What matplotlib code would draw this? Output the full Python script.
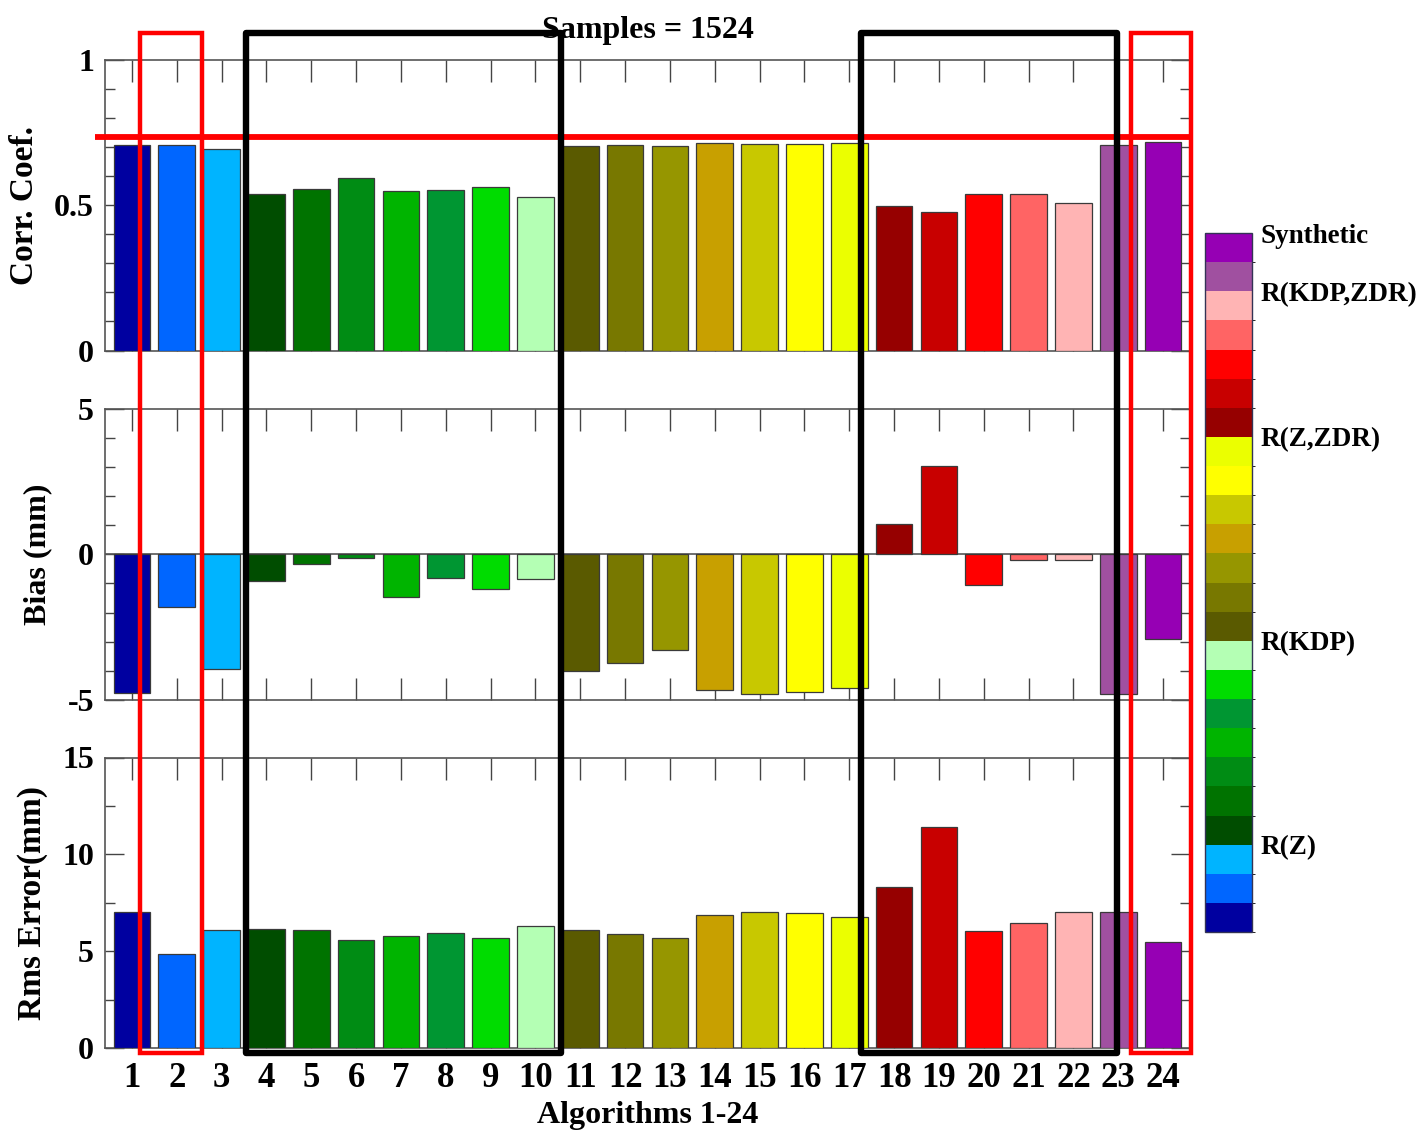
import numpy as np
import matplotlib
matplotlib.use("Agg")
import matplotlib.pyplot as plt
from matplotlib.colors import ListedColormap, BoundaryNorm
from matplotlib.cm import ScalarMappable
from matplotlib.patches import Rectangle
from matplotlib.transforms import blended_transform_factory
from matplotlib.ticker import MultipleLocator

plt.rcParams['font.family'] = ['Liberation Serif', 'DejaVu Serif']
plt.rcParams['font.weight'] = 'bold'

# ---------------- data ----------------
algorithms = list(range(1, 25))
corr_coef = [0.706, 0.708, 0.695, 0.539, 0.556, 0.594, 0.549, 0.554, 0.564, 0.527,
             0.705, 0.708, 0.705, 0.713, 0.711, 0.711, 0.714, 0.498, 0.477, 0.539,
             0.539, 0.508, 0.709, 0.717]
bias_mm = [-4.75, -1.81, -3.93, -0.91, -0.34, -0.14, -1.47, -0.80, -1.20, -0.85,
           -4.01, -3.74, -3.30, -4.66, -4.78, -4.73, -4.60, 1.03, 3.02, -1.04,
           -0.21, -0.21, -4.78, -2.91]
rms_mm = [7.01, 4.86, 6.10, 6.15, 6.08, 5.60, 5.80, 5.94, 5.67, 6.29,
          6.10, 5.88, 5.67, 6.87, 7.03, 6.96, 6.77, 8.33, 11.41, 6.06,
          6.46, 7.03, 7.03, 5.46]
bar_colors = ['#0000A0', '#0066FF', '#00B4FF',
              '#004D00', '#007300', '#008C14', '#00B400', '#009632', '#00DC00', '#B4FFB4',
              '#5A5A00', '#787800', '#969600', '#C8A000', '#C8C800', '#FFFF00', '#EBFF00',
              '#960000', '#C80000', '#FF0000', '#FF6464', '#FFB4B4',
              '#A050A0', '#9600B4']
group_names = ['R(Z)', 'R(KDP)', 'R(Z,ZDR)', 'R(KDP,ZDR)', 'Synthetic']
group_label_pos = [3, 10, 17, 22, 24]
corr_reference = 0.734
n_samples = 1524

# highlight boxes in algorithm units (x ranges)
red_boxes = [(1.18, 2.57), (23.28, 24.63)]
black_boxes = [(3.54, 10.58), (17.27, 22.97)]

# ---------------- figure ----------------
W, H = 1421, 1131
fig = plt.figure(figsize=(W / 100, H / 100), dpi=100)

left = 105 / W
width = (1190 - 105) / W

def yfrac(top_px, bot_px):
    return 1 - bot_px / H, (bot_px - top_px) / H

b1, h1 = yfrac(60, 350.5)
b2, h2 = yfrac(408.5, 700)
b3, h3 = yfrac(757.5, 1048.3)
ax1 = fig.add_axes([left, b1, width, h1])
ax2 = fig.add_axes([left, b2, width, h2])
ax3 = fig.add_axes([left, b3, width, h3])

spine_col = '#555555'
for ax, vals, ylim, ymaj, ymin in [
        (ax1, corr_coef, (0, 1), 0.5, 0.1),
        (ax2, bias_mm, (-5, 5), 5, 1),
        (ax3, rms_mm, (0, 15), 5, 2.5)]:
    ax.bar(algorithms, vals, width=0.82, color=bar_colors,
           edgecolor='#3a3a3a', linewidth=0.9, zorder=3)
    ax.set_xlim(0.4, 24.6)
    ax.set_ylim(*ylim)
    ax.set_xticks(algorithms)
    ax.yaxis.set_major_locator(MultipleLocator(ymaj))
    ax.yaxis.set_minor_locator(MultipleLocator(ymin))
    ax.tick_params(axis='x', which='both', direction='in', top=True, bottom=True,
                   length=16, width=1.0, color='#444444', labelsize=25, pad=10)
    ax.tick_params(axis='y', which='major', direction='in', left=True, right=True,
                   length=14, width=1.0, color='#444444', labelsize=23, pad=8)
    ax.tick_params(axis='y', which='minor', direction='in', left=True, right=True,
                   length=7, width=1.0, color='#444444')
    for s in ax.spines.values():
        s.set_color(spine_col)
        s.set_linewidth(1.2)
    if ax is not ax3:
        ax.tick_params(axis='x', labelbottom=False)

ax1.set_yticks([0, 0.5, 1])
ax1.set_yticklabels(['0', '0.5', '1'])
ax2.set_yticks([-5, 0, 5])
ax2.set_yticklabels(['-5', '0', '5'])
ax2.axhline(0, color=spine_col, linewidth=1.2, zorder=2)
ax3.set_yticks([0, 5, 10, 15])

ax1.set_title(f'Samples = {n_samples}', fontsize=23, fontweight='bold', pad=16)
ax1.set_ylabel('Corr. Coef.', fontsize=24, fontweight='bold')
ax2.set_ylabel('Bias (mm)', fontsize=23, fontweight='bold')
ax3.set_ylabel('Rms Error(mm)', fontsize=24, fontweight='bold')
ax1.yaxis.set_label_coords(-0.060, 0.5)
ax2.yaxis.set_label_coords(-0.049, 0.5)
ax3.yaxis.set_label_coords(-0.0525, 0.5)
ax3.set_xlabel('Algorithms 1-24', fontsize=23, fontweight='bold', labelpad=4)

# red reference line
ax1.plot([0.18, 24.6], [corr_reference, corr_reference], color='#FF0000',
         linewidth=4.2, clip_on=False, zorder=6, solid_capstyle='butt')
ax1.set_xlim(0.4, 24.6)

# highlight boxes
btr = blended_transform_factory(ax3.transData, fig.transFigure)
y_top = 1 - 33 / H
y_bot = 1 - 1053 / H
for x0, x1 in red_boxes:
    fig.add_artist(Rectangle((x0, y_bot), x1 - x0, y_top - y_bot, transform=btr,
                             fill=False, edgecolor='#FF0000', linewidth=3.2,
                             clip_on=False, zorder=10))
for x0, x1 in black_boxes:
    fig.add_artist(Rectangle((x0, y_bot), x1 - x0, y_top - y_bot, transform=btr,
                             fill=False, edgecolor='#000000', linewidth=4.6,
                             joinstyle='round', clip_on=False, zorder=10))

# colour bar legend
cax = fig.add_axes([1205 / W, 1 - 932 / H, 47 / W, (932 - 233) / H])
cmap = ListedColormap(bar_colors)
norm = BoundaryNorm(np.arange(0, 25), cmap.N)
sm = ScalarMappable(norm=norm, cmap=cmap)
cb = fig.colorbar(sm, cax=cax, ticks=group_label_pos, drawedges=False)
cb.set_ticklabels(group_names)
cb.ax.tick_params(length=0, labelsize=19.5, pad=6)
for t in cb.ax.get_yticklabels():
    t.set_fontweight('bold')
cb.outline.set_edgecolor('#333355')
cb.outline.set_linewidth(1.0)

fig.savefig('out.png', dpi=100)
